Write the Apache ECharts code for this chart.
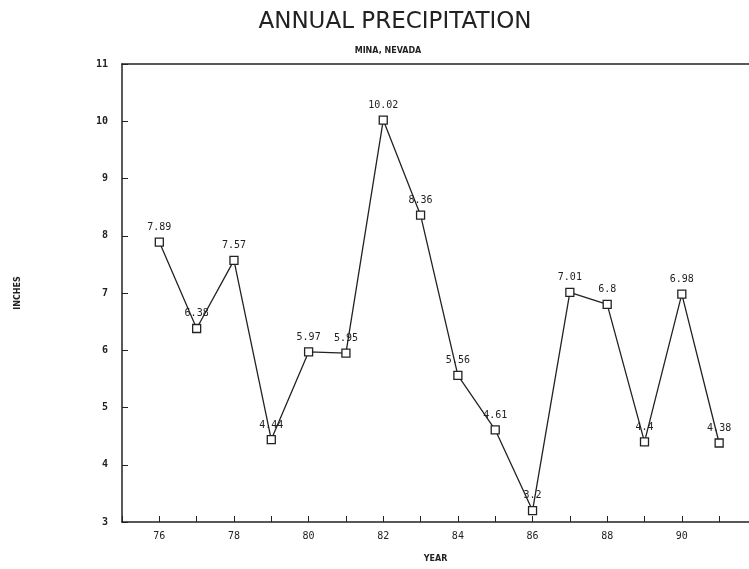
<!DOCTYPE html>
<html>
<head>
<meta charset="utf-8">
<script src="https://cdn.jsdelivr.net/npm/echarts@6/dist/echarts.min.js"></script>
<style>
  html, body { margin: 0; padding: 0; background: #fff; }
  #chart { width: 749px; height: 569px; }
</style>
</head>
<body>
<div id="chart"></div>
<script>
// 年份与降水量（英寸）
const years = [76, 77, 78, 79, 80, 81, 82, 83, 84, 85, 86, 87, 88, 89, 90, 91];
const inches = [7.89, 6.38, 7.57, 4.44, 5.97, 5.95, 10.02, 8.36, 5.56, 4.61, 3.2, 7.01, 6.8, 4.4, 6.98, 4.38];
const evenYearLabels = [76, 78, 80, 82, 84, 86, 88, 90];

const myChart = echarts.init(document.getElementById('chart'));

const ink = '#222';
const monoFont = '"DejaVu Sans Mono", monospace';

const option = {
  backgroundColor: '#fff',
  animation: false,
  title: [
    {
      text: 'ANNUAL PRECIPITATION',
      left: 390,
      textAlign: 'center',
      top: 6,
      textStyle: { fontFamily: '"DejaVu Sans"', fontSize: 23, fontWeight: 'normal', color: ink }
    },
    {
      text: 'MINA, NEVADA',
      left: 383,
      top: 42,
      textAlign: 'center',
      textStyle: { fontFamily: '"DejaVu Sans"', fontSize: 8, fontWeight: 'bold', color: ink }
    }
  ],
  grid: {
    left: 122,
    top: 64,
    right: 0,
    bottom: 47
  },
  xAxis: [
    {
      type: 'value',
      min: 75,
      max: 91.8,
      interval: 1,
      name: 'YEAR',
      nameLocation: 'middle',
      nameGap: 33,
      nameTextStyle: { fontFamily: '"DejaVu Sans"', fontSize: 8, fontWeight: 'bold', color: ink },
      axisLine: { lineStyle: { color: ink, width: 1.5 } },
      axisTick: { inside: true, length: 6, lineStyle: { color: ink } },
      splitLine: { show: false },
      axisLabel: {
        margin: 9,
        fontFamily: monoFont,
        fontSize: 10,
        color: ink,
        showMaxLabel: false,
        formatter: v => (evenYearLabels.includes(v) ? String(v) : '')
      }
    },
    {
      // 顶部边框线
      type: 'value',
      position: 'top',
      min: 75,
      max: 91.8,
      axisLine: { show: true, lineStyle: { color: ink, width: 1.5 } },
      axisTick: { show: false },
      axisLabel: { show: false },
      splitLine: { show: false }
    }
  ],
  yAxis: {
    type: 'value',
    min: 3,
    max: 11,
    interval: 1,
    name: 'INCHES',
    nameLocation: 'middle',
    nameGap: 100,
    nameRotate: 90,
    nameTextStyle: { fontFamily: '"DejaVu Sans"', fontSize: 8, fontWeight: 'bold', color: ink },
    axisLine: { show: true, lineStyle: { color: ink, width: 1.5 } },
    axisTick: { show: true, inside: true, length: 6, lineStyle: { color: ink } },
    splitLine: { show: false },
    axisLabel: { margin: 14, fontFamily: monoFont, fontSize: 10, fontWeight: 'bold', color: ink }
  },
  series: [
    {
      type: 'line',
      data: years.map((y, i) => [y, inches[i]]),
      symbol: 'rect',
      symbolSize: 8,
      itemStyle: { color: '#fff', borderColor: ink, borderWidth: 1.3 },
      lineStyle: { color: ink, width: 1.3 },
      label: {
        show: true,
        position: 'top',
        distance: 5,
        fontFamily: monoFont,
        fontSize: 10,
        color: ink,
        formatter: p => String(p.value[1])
      }
    }
  ]
};

myChart.setOption(option);
</script>
</body>
</html>
